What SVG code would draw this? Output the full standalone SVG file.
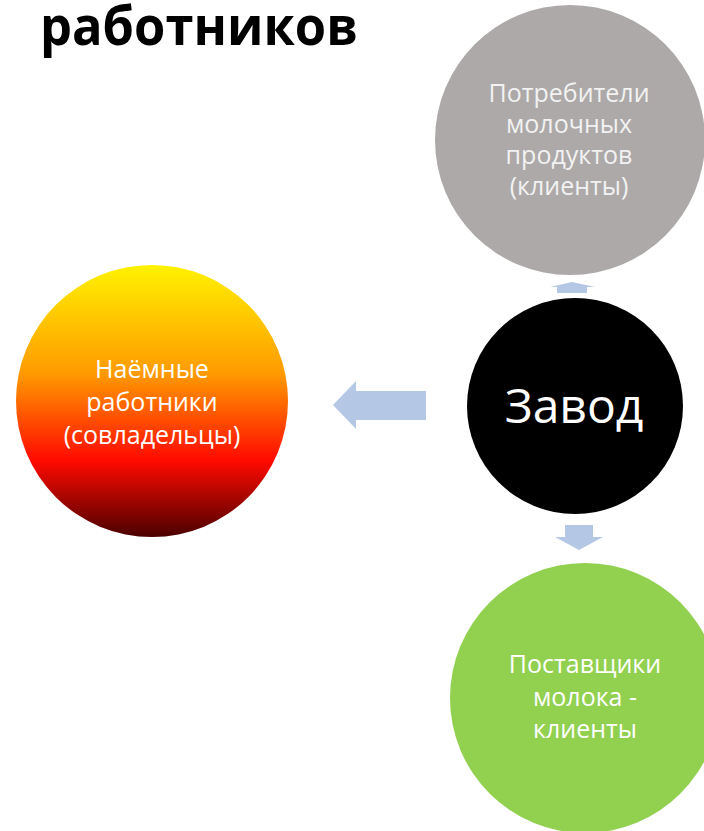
<svg xmlns="http://www.w3.org/2000/svg" width="704" height="831" viewBox="0 0 704 831">
<defs>
<linearGradient id="gWork" x1="0" y1="0" x2="0" y2="1">
<stop offset="0" stop-color="#fff200"/>
<stop offset="0.4" stop-color="#ff9a00"/>
<stop offset="0.72" stop-color="#ff0a00"/>
<stop offset="1" stop-color="#4a0000"/>
</linearGradient>
<style>
.lbl{font-family:"Open Sans","Noto Sans","DejaVu Sans",sans-serif;font-size:25px;fill:#ffffff;text-anchor:middle}
.gray{fill:#f2f2f2}
.arrow{fill:#b4c8e6}
.title{font-family:"Open Sans","Noto Sans",sans-serif;font-weight:bold;font-size:53px;fill:#000000}
</style>
</defs>
<rect width="704" height="831" fill="#ffffff"/>
<text class="title" x="40" y="45" textLength="318" lengthAdjust="spacingAndGlyphs">работников</text>
<g id="connectors">
<polygon class="arrow" points="572,282 595,287 587,287 587,293 557,293 557,287 550,287"/>
<polygon class="arrow" points="333,405 356,381 356,391 426,391 426,420 356,420 356,429"/>
<polygon class="arrow" points="565,525 593,525 593,537 603,537 579,550 555,537 565,537"/>
</g>
<g id="node-consumers">
<circle cx="570" cy="140" r="135" fill="#aca9a8"/>
<text class="lbl gray" x="569" y="102">Потребители</text>
<text class="lbl gray" x="569" y="133">молочных</text>
<text class="lbl gray" x="569" y="164">продуктов</text>
<text class="lbl gray" x="569" y="195">(клиенты)</text>
</g>
<g id="node-workers">
<circle cx="152" cy="401" r="136" fill="url(#gWork)"/>
<text class="lbl" x="152" y="378">Наёмные</text>
<text class="lbl" x="152" y="411">работники</text>
<text class="lbl" x="152" y="444">(совладельцы)</text>
</g>
<g id="node-factory">
<circle cx="575" cy="406" r="108" fill="#000000"/>
<text class="lbl" x="574" y="423" style="font-size:48px">Завод</text>
</g>
<g id="node-suppliers">
<circle cx="585" cy="698" r="135" fill="#92d050"/>
<text class="lbl" x="585" y="673">Поставщики</text>
<text class="lbl" x="585" y="706">молока -</text>
<text class="lbl" x="585" y="738">клиенты</text>
</g>
</svg>
